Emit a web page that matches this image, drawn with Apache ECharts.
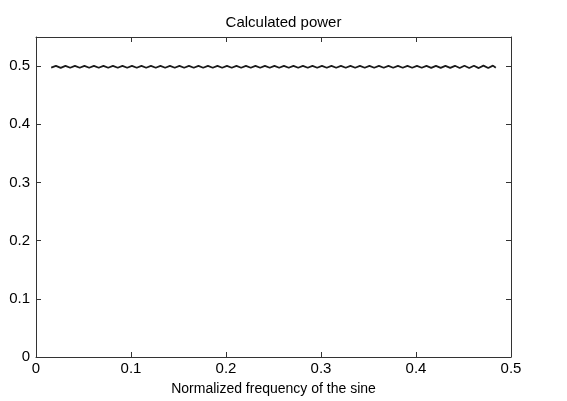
<!DOCTYPE html>
<html>
<head>
<meta charset="utf-8">
<script src="https://cdn.jsdelivr.net/npm/echarts@6/dist/echarts.min.js"></script>
<style>
  html, body { margin: 0; padding: 0; background: #fff; }
  #chart { width: 567px; height: 401px; }
</style>
</head>
<body>
<div id="chart"></div>
<script>
// normalized frequency of the sine
const freqs = [
  0.016, 0.021, 0.026, 0.031, 0.036, 0.041, 0.046, 0.051, 0.056, 0.061,
  0.066, 0.071, 0.076, 0.081, 0.086, 0.091, 0.096, 0.101, 0.106, 0.111,
  0.116, 0.121, 0.126, 0.131, 0.136, 0.141, 0.146, 0.151, 0.156, 0.161,
  0.166, 0.171, 0.176, 0.181, 0.186, 0.191, 0.196, 0.201, 0.206, 0.211,
  0.216, 0.221, 0.226, 0.231, 0.236, 0.241, 0.246, 0.251, 0.256, 0.261,
  0.266, 0.271, 0.276, 0.281, 0.286, 0.291, 0.296, 0.301, 0.306, 0.311,
  0.316, 0.321, 0.326, 0.331, 0.336, 0.341, 0.346, 0.351, 0.356, 0.361,
  0.366, 0.371, 0.376, 0.381, 0.386, 0.391, 0.396, 0.401, 0.406, 0.411,
  0.416, 0.421, 0.426, 0.431, 0.436, 0.441, 0.446, 0.451, 0.456, 0.461,
  0.466, 0.471, 0.476, 0.481, 0.484
]
// calculated power (wiggles around 0.5)
const power = [
  0.4975, 0.5005, 0.4970, 0.5005, 0.4972, 0.5003, 0.4972, 0.5003, 0.4972, 0.5003,
  0.4972, 0.5003, 0.4972, 0.5003, 0.4972, 0.5003, 0.4972, 0.5003, 0.4972, 0.5003,
  0.4972, 0.5003, 0.4972, 0.5003, 0.4972, 0.5003, 0.4972, 0.5003, 0.4972, 0.5003,
  0.4972, 0.5003, 0.4972, 0.5003, 0.4972, 0.5003, 0.4972, 0.5003, 0.4972, 0.5003,
  0.4972, 0.5003, 0.4972, 0.5003, 0.4972, 0.5003, 0.4972, 0.5003, 0.4972, 0.5003,
  0.4972, 0.5003, 0.4972, 0.5003, 0.4972, 0.5003, 0.4972, 0.5003, 0.4972, 0.5003,
  0.4972, 0.5003, 0.4972, 0.5003, 0.4972, 0.5003, 0.4972, 0.5003, 0.4972, 0.5003,
  0.4972, 0.5003, 0.4972, 0.5003, 0.4972, 0.5003, 0.4972, 0.5003, 0.4972, 0.5003,
  0.4970, 0.5005, 0.4970, 0.5005, 0.4970, 0.5005, 0.4968, 0.5006, 0.4968, 0.5006,
  0.4966, 0.5008, 0.4966, 0.5008, 0.4972
]
const xTicks = [0, 0.1, 0.2, 0.3, 0.4, 0.5]
const yTicks = [0, 0.1, 0.2, 0.3, 0.4, 0.5]

const font = 'Liberation Sans, Arial, Helvetica, sans-serif'
const mkLine = () => ({ show: true, onZero: false, lineStyle: { color: '#333', width: 1 } })
const mkTick = () => ({ show: true, inside: true, length: 5, lineStyle: { color: '#333', width: 1 } })

const chart = echarts.init(document.getElementById('chart'))
chart.setOption({
  animation: false,
  backgroundColor: '#fff',
  title: {
    text: 'Calculated power',
    left: 'center',
    top: 10,
    textStyle: { fontFamily: font, fontSize: 15, fontWeight: 'normal', color: '#000' }
  },
  grid: { left: 36, right: 56, top: 37, bottom: 43 },
  xAxis: [
    {
      type: 'value', min: 0, max: 0.5, interval: 0.1,
      axisLine: mkLine(), axisTick: mkTick(), splitLine: { show: false },
      axisLabel: { color: '#000', fontFamily: font, fontSize: 15, margin: 4,
        formatter: v => xTicks.includes(+v.toFixed(2)) ? String(+v.toFixed(2)) : '' },
      name: 'Normalized frequency of the sine',
      nameLocation: 'middle', nameGap: 25,
      nameTextStyle: { color: '#000', fontFamily: font, fontSize: 14 }
    },
    {
      type: 'value', position: 'top', min: 0, max: 0.5, interval: 0.1,
      axisLine: mkLine(), axisTick: mkTick(), axisLabel: { show: false }, splitLine: { show: false }
    }
  ],
  yAxis: [
    {
      type: 'value', min: 0, max: 0.55, interval: 0.1,
      axisLine: mkLine(), axisTick: mkTick(), splitLine: { show: false },
      axisLabel: { color: '#000', fontFamily: font, fontSize: 15, margin: 6,
        formatter: v => yTicks.includes(+v.toFixed(2)) ? String(+v.toFixed(2)) : '' }
    },
    {
      type: 'value', position: 'right', min: 0, max: 0.55, interval: 0.1,
      axisLine: mkLine(), axisTick: mkTick(), axisLabel: { show: false }, splitLine: { show: false }
    }
  ],
  series: [{
    type: 'line',
    data: freqs.map((f, i) => [f, power[i]]),
    showSymbol: false,
    lineStyle: { color: '#1a1a1a', width: 1.8 }
  }]
})
</script>
</body>
</html>
